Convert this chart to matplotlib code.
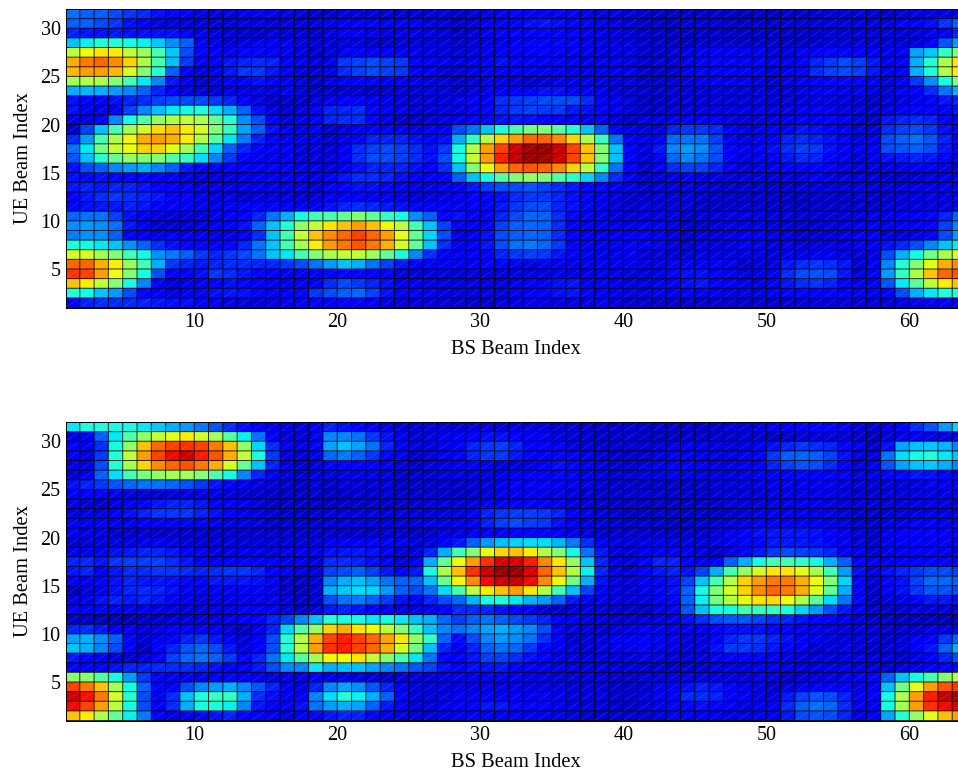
import numpy as np
import matplotlib
matplotlib.use('Agg')
import matplotlib.pyplot as plt
from matplotlib.collections import LineCollection

plt.rcParams['font.family'] = ['Liberation Serif']

# beam power, rows go from UE beam 31 (top) down to 1
top_left = [
    [22,20,20,18,16,15,12,11,10,8,7,7,8,8,8,7,6,5],
    [20,20,18,16,12,9,7,6,6,6,6,6,7,7,6,7,7,7],
    [14,13,12,13,12,12,12,12,10,8,7,6,5,5,6,6,6,5],
    [30,35,38,38,36,35,31,25,20,11,8,6,7,8,9,8,7,6],
    [57,63,66,65,57,53,42,31,18,11,9,8,10,10,10,8,7,5],
    [72,78,80,76,68,55,43,30,16,10,10,13,14,15,14,10,9,7],
    [71,74,74,71,60,50,38,20,10,7,9,13,16,16,13,9,7,6],
    [54,55,55,50,42,34,24,13,8,5,7,10,11,12,11,8,6,5],
    [28,29,28,26,24,20,14,9,7,6,6,7,7,7,7,8,6,5],
    [12,11,10,12,14,15,17,18,18,18,16,14,11,7,5,5,5,6],
    [12,8,7,8,17,24,30,34,36,37,33,28,20,12,7,5,6,9],
    [7,6,9,24,36,44,52,56,58,55,47,38,25,18,10,6,8,10],
    [5,17,30,42,54,60,67,70,65,60,50,40,27,20,12,8,7,9],
    [15,26,42,55,64,72,74,72,65,56,45,34,23,14,10,8,8,8],
    [22,34,48,58,63,68,68,62,54,42,32,20,14,11,9,9,7,7],
    [19,30,38,46,52,50,50,44,40,33,24,16,10,8,8,8,6,6],
    [12,18,20,24,26,28,24,20,13,9,9,9,9,9,9,9,8,8],
    [12,11,12,11,11,10,10,8,6,6,6,7,7,8,8,8,8,7],
    [13,14,13,14,14,13,11,10,8,7,7,7,8,8,8,7,7,6],
    [10,13,15,16,15,14,13,11,11,8,7,7,5,6,6,6,6,6],
    [11,12,13,13,14,13,11,11,9,8,8,9,10,10,11,11,10,9],
    [21,22,22,17,12,8,6,6,6,7,8,10,11,14,22,28,36,42],
    [25,26,25,22,13,8,5,5,6,7,9,10,12,20,30,38,52,58],
    [23,25,25,20,10,8,7,8,8,8,7,7,8,15,30,42,58,70],
    [37,36,34,30,25,20,15,12,11,11,10,11,14,22,30,42,54,65],
    [60,60,54,50,42,36,25,23,20,16,14,16,18,22,30,34,42,50],
    [80,80,72,65,52,42,28,16,14,13,14,15,15,14,14,16,18,22],
    [85,84,74,63,50,36,18,9,10,12,16,15,13,11,9,8,8,9],
    [70,65,58,50,36,24,10,6,8,9,10,12,11,10,9,8,9,10],
    [38,36,30,26,18,11,9,7,8,10,12,13,12,11,9,9,11,16],
    [11,14,15,15,15,14,13,12,12,10,8,7,6,6,7,8,10,11],
]
top_mid = [
    [5,6,6,6,6,6,6,6,6,5,6,7,8,10,11,10,10,9,8,7,7,6],
    [8,10,10,10,10,11,9,7,6,5,7,9,11,11,12,13,12,11,10,8,7,6],
    [7,9,9,8,7,8,8,7,6,5,6,8,10,11,11,11,11,10,9,8,7,6],
    [6,6,6,5,5,6,6,6,6,5,6,7,8,9,9,10,10,9,8,7,7,6],
    [6,8,9,9,9,9,8,7,6,6,7,8,9,9,9,10,9,8,8,7,7,7],
    [8,16,17,18,17,16,11,9,8,7,8,10,12,11,11,10,10,9,8,8,8,7],
    [8,15,17,18,17,16,11,9,6,6,8,10,11,10,10,10,9,9,8,8,8,8],
    [7,9,10,10,9,9,8,7,6,5,6,7,8,7,5,6,8,8,8,7,6,6],
    [4,5,5,4,5,6,6,6,6,5,7,8,10,10,11,12,12,11,10,8,6,5],
    [8,10,10,9,8,7,6,6,7,8,10,11,15,16,17,18,18,18,15,10,8,6],
    [14,14,15,11,9,8,6,6,7,7,9,11,14,16,17,16,16,13,12,10,8,6],
    [14,15,15,10,7,5,5,6,7,8,9,11,12,13,12,11,10,9,8,8,6,4],
    [5,6,8,10,9,8,7,8,8,18,22,30,37,43,48,50,45,38,30,20,11,7],
    [5,7,10,14,14,14,12,10,12,28,40,56,68,74,80,80,76,68,55,40,22,9],
    [6,9,15,17,18,17,15,12,16,36,56,74,84,93,97,98,93,84,70,50,30,11],
    [7,9,15,18,18,17,15,12,18,36,58,74,88,94,98,97,93,84,70,50,30,10],
    [6,8,12,14,14,14,12,10,15,30,50,63,74,80,82,80,76,68,57,40,22,9],
    [10,13,15,15,14,12,10,10,11,20,30,36,44,50,52,50,44,39,32,24,15,8],
    [9,11,12,12,11,10,7,7,8,10,13,16,18,18,19,17,15,13,11,9,8,7],
    [8,9,10,9,8,7,6,6,7,8,10,10,12,15,16,16,14,12,10,8,6,5],
    [12,14,15,14,13,12,11,10,9,8,9,10,13,16,18,18,14,12,10,8,6,5],
    [43,46,50,46,40,36,25,20,11,12,9,10,14,18,21,20,15,11,9,8,7,6],
    [66,70,74,70,64,57,42,30,17,8,9,11,17,20,21,20,15,9,8,8,7,7],
    [76,80,84,80,74,62,46,32,18,7,8,12,18,20,21,20,15,10,9,8,8,8],
    [74,78,82,78,72,60,46,30,15,8,9,13,18,22,23,21,16,10,8,8,8,9],
    [55,58,57,53,46,36,24,15,9,8,9,11,14,16,17,16,13,10,9,8,8,8],
    [26,30,28,22,17,13,11,10,9,8,9,10,10,8,7,8,8,8,8,9,8,8],
    [10,11,11,10,9,6,6,6,6,6,6,6,6,7,7,7,8,8,8,8,7,6],
    [15,18,16,14,12,8,8,7,7,7,7,7,7,8,8,10,12,13,10,9,8,7],
    [18,20,21,17,12,10,9,8,7,7,7,7,7,8,9,10,12,13,10,9,8,7],
    [10,11,11,9,7,6,6,6,6,5,5,5,6,7,8,7,7,7,7,8,6,5],
]
top_right = [
    [5,5,5,5,5,5,5,4,4,4,5,5,5,6,6,6,6,5,6,7,7,8,9],
    [5,5,5,6,6,6,5,5,5,5,6,6,6,7,7,7,7,7,9,11,12,16,20],
    [5,5,5,5,5,5,5,5,5,5,5,5,5,6,6,6,6,6,6,7,8,9,14],
    [5,5,4,4,5,5,5,5,5,5,5,5,5,6,6,6,6,6,6,7,10,19,26],
    [5,5,6,7,8,9,9,8,8,6,7,8,9,11,11,11,9,8,8,27,31,40,50],
    [5,6,6,8,10,11,11,11,9,8,9,11,14,16,18,17,13,8,10,28,38,55,66],
    [5,5,6,8,11,11,11,11,8,7,9,11,15,17,18,17,13,9,10,28,37,55,65],
    [5,5,6,7,8,9,8,8,6,5,7,9,10,11,11,11,9,6,10,16,25,36,50],
    [5,5,6,6,6,6,6,6,6,6,6,7,8,8,8,8,7,6,8,11,15,22,28],
    [4,5,6,6,6,6,6,6,6,6,6,7,7,7,7,6,5,6,7,9,11,13,14],
    [5,5,6,6,7,7,7,7,7,7,7,8,8,8,7,7,6,7,9,10,10,11,12],
    [7,7,8,9,9,8,7,6,6,7,8,9,9,9,8,6,5,13,14,15,14,11,9],
    [6,7,14,16,16,15,9,7,7,9,11,13,12,10,8,6,6,15,17,18,16,12,9],
    [7,11,21,22,22,17,9,7,8,10,14,15,14,12,9,7,8,18,20,22,19,14,10],
    [7,13,24,26,25,19,10,8,9,12,15,17,16,12,9,8,9,18,19,20,18,13,10],
    [6,11,21,24,22,18,10,7,8,10,13,15,14,11,8,6,8,12,13,14,13,10,8],
    [5,9,15,17,17,14,8,6,6,8,10,11,10,9,7,6,7,7,7,8,8,7,6],
    [5,6,7,8,7,7,6,6,6,6,7,7,8,7,6,6,6,5,5,5,6,7,8],
    [5,6,6,6,6,5,5,5,5,5,5,6,6,6,6,6,6,6,6,7,7,8,9],
    [5,6,6,6,5,5,5,5,5,5,5,4,5,5,5,5,5,5,6,7,7,7,8],
    [6,6,6,6,5,5,5,5,5,5,5,4,5,5,5,5,5,6,6,6,6,7,8],
    [7,7,7,5,6,6,7,7,7,7,7,6,6,6,7,7,8,8,9,9,10,14,20],
    [8,8,7,5,5,6,7,7,7,6,6,5,5,6,7,8,8,8,9,9,10,17,24],
    [8,8,7,4,6,6,7,8,8,7,7,5,5,6,7,8,9,6,6,7,9,18,26],
    [8,8,7,5,7,7,7,8,7,6,7,6,6,7,7,8,9,12,14,18,24,30,34],
    [6,6,6,6,7,7,7,7,7,7,8,8,8,8,7,6,7,18,28,36,48,55,60],
    [7,7,9,9,9,9,8,5,6,7,13,15,16,15,13,6,9,24,38,50,62,72,76],
    [6,8,11,12,12,10,8,7,7,9,15,18,19,18,13,6,10,26,40,55,70,80,82],
    [7,9,11,12,13,11,9,8,7,9,13,15,16,14,11,8,10,19,34,45,57,65,70],
    [7,8,9,9,9,8,7,7,7,9,10,10,10,10,9,8,9,10,18,28,34,38,38],
    [5,5,5,5,5,5,5,5,5,5,6,6,6,6,6,6,6,6,7,7,8,10,11],
]
bot_left = [
    [34,37,37,36,36,34,31,28,26,23,19,15,12,9,8,7,7,9],
    [7,9,20,34,44,52,58,62,65,60,54,44,35,22,10,6,6,8],
    [10,8,15,36,52,70,80,84,86,84,78,70,52,32,15,8,7,10],
    [10,7,16,38,58,74,84,90,93,88,82,72,58,37,16,7,6,8],
    [7,7,18,38,54,68,76,80,82,78,72,60,46,30,14,7,5,6],
    [5,8,20,33,42,49,52,54,54,50,44,36,24,14,8,6,5,6],
    [12,14,16,19,21,22,22,21,19,16,13,10,8,7,6,5,5,6],
    [9,9,9,7,6,5,5,6,7,7,7,6,5,5,4,4,4,5],
    [7,5,5,7,9,11,13,14,14,13,11,10,8,6,5,5,5,5],
    [6,7,7,9,12,14,16,16,16,14,12,10,8,7,6,5,5,6],
    [9,9,9,8,8,9,10,10,10,9,8,7,7,6,5,5,5,5],
    [9,7,7,5,5,5,4,5,5,5,5,5,5,5,5,5,5,5],
    [5,6,6,7,7,8,8,7,6,6,6,6,6,6,6,6,6,6],
    [8,8,9,12,13,14,14,13,11,9,7,7,8,8,7,8,9,9],
    [14,15,13,16,17,17,17,15,13,11,10,10,11,11,10,8,8,7],
    [13,14,11,13,15,15,16,16,15,14,15,16,16,14,10,8,7,7],
    [9,8,9,12,14,13,13,12,11,11,13,13,13,12,9,5,4,6],
    [3,6,8,12,14,15,14,12,9,8,9,10,10,10,8,5,4,6],
    [7,8,12,14,13,14,13,11,8,7,8,8,8,8,8,6,5,6],
    [9,9,9,9,8,8,7,7,6,6,7,7,9,9,9,6,5,7],
    [4,4,3,3,3,4,5,6,6,6,7,8,9,11,14,17,24,30],
    [14,15,13,10,8,6,7,9,10,11,9,6,5,8,14,32,44,52],
    [27,28,25,20,11,6,8,10,14,16,13,9,6,10,18,38,56,72],
    [30,28,24,18,10,4,9,14,19,21,18,13,7,10,18,38,56,74],
    [13,11,9,6,5,6,10,17,21,22,20,16,11,14,22,34,44,54],
    [11,10,11,12,14,14,15,15,15,14,12,10,9,13,18,24,24,34],
    [50,50,44,36,26,16,11,8,8,8,9,9,10,8,7,7,7,10],
    [84,78,70,54,36,20,10,9,18,24,26,28,24,19,14,8,7,14],
    [93,89,78,60,38,18,8,15,30,37,41,40,28,15,12,8,10,24],
    [90,84,74,56,36,18,9,15,28,36,37,35,24,13,9,8,12,22],
    [70,65,55,46,35,23,10,6,8,11,12,14,11,10,8,6,9,11],
]
bot_mid = [
    [14,12,11,9,7,6,6,6,6,6,7,7,7,7,7,7,6,6,5,5,5,5],
    [24,24,22,16,12,9,6,7,8,9,11,12,12,11,9,8,7,6,6,5,5,5],
    [27,30,27,22,14,9,7,6,8,11,14,16,17,14,11,10,9,7,6,5,5,5],
    [21,23,20,16,11,8,5,6,8,11,14,16,16,13,11,11,11,9,8,6,5,5],
    [9,11,10,9,8,6,5,6,7,8,9,8,6,6,7,9,12,11,8,7,5,5],
    [6,7,7,7,6,5,5,5,6,7,6,6,8,9,9,10,11,9,7,6,5,5],
    [5,6,6,6,6,5,5,5,5,5,6,7,8,9,9,10,9,8,7,6,5,5],
    [4,4,5,5,6,5,5,5,5,4,5,6,8,8,8,7,7,6,5,5,5,5],
    [5,5,5,5,5,5,5,6,6,6,7,8,9,9,9,9,8,7,6,5,5,4],
    [6,6,6,6,6,6,6,6,6,7,10,14,16,17,17,16,14,10,8,6,5,4],
    [6,6,6,6,6,6,6,7,7,8,10,14,17,18,17,16,12,9,7,6,5,4],
    [5,4,4,4,5,5,4,4,6,7,8,9,10,11,11,11,9,8,6,5,5,5],
    [8,8,9,9,9,8,7,7,10,13,20,26,30,32,33,33,29,23,15,9,7,6],
    [12,13,13,12,10,6,7,14,28,42,50,62,68,70,65,56,50,36,22,13,7,6],
    [15,15,14,12,9,6,10,28,46,63,74,86,92,92,88,76,66,52,30,14,7,6],
    [17,18,20,17,13,10,13,36,55,70,86,94,98,98,92,80,70,56,35,14,7,6],
    [24,28,30,27,22,20,21,30,47,64,76,90,93,94,90,76,64,48,28,12,7,6],
    [28,31,33,32,26,20,18,22,33,43,57,65,70,74,66,56,42,30,17,9,7,6],
    [18,22,23,20,16,12,10,14,18,21,29,36,37,34,29,26,20,13,9,8,7,6],
    [13,14,13,11,8,7,7,8,11,15,15,14,12,10,8,5,4,6,7,6,5,5],
    [38,37,36,34,36,34,30,28,21,17,20,22,20,18,16,14,10,9,7,6,5,5],
    [68,72,66,63,57,50,40,30,24,22,24,27,28,26,24,18,10,7,6,5,6,7],
    [84,88,84,80,73,66,52,40,20,12,18,24,26,25,22,15,9,5,6,7,9,9],
    [86,88,84,80,72,60,48,30,14,8,14,20,22,21,16,11,8,6,6,7,8,8],
    [64,63,66,57,50,42,34,22,10,10,13,17,17,15,12,9,7,6,6,6,6,6],
    [28,30,30,27,24,22,19,17,12,10,12,12,13,11,9,8,7,6,6,6,6,6],
    [7,7,6,6,5,6,6,6,7,8,8,8,8,8,7,7,6,6,6,6,5,5],
    [24,27,25,19,14,9,7,6,7,7,7,7,7,7,7,7,7,6,6,6,5,5],
    [33,38,35,28,20,11,7,6,7,9,9,10,10,9,8,8,8,7,7,7,5,5],
    [26,28,27,20,13,9,6,6,8,9,11,13,13,11,10,9,8,7,6,6,5,4],
    [13,14,14,11,8,7,6,6,7,8,9,9,9,8,8,8,7,6,5,5,5,5],
]
bot_right = [
    [5,5,5,5,5,5,6,6,7,9,10,11,11,10,8,7,6,7,10,15,19,26,32],
    [4,4,4,5,5,5,5,6,5,4,5,6,6,6,6,5,4,6,7,8,7,6,9],
    [5,6,7,8,8,7,6,7,9,12,14,16,15,14,11,8,5,12,27,30,31,29,24],
    [5,7,9,8,8,7,7,8,10,16,20,21,20,17,12,6,7,22,33,36,38,34,30],
    [6,8,9,9,8,7,7,8,9,14,17,19,18,15,11,6,8,19,27,30,31,28,24],
    [6,7,8,7,6,6,6,7,8,9,10,11,10,9,8,6,8,10,11,13,12,10,8],
    [4,5,5,5,5,6,6,6,7,8,8,8,8,8,7,6,6,6,6,7,8,9,9],
    [5,5,5,5,5,5,6,6,6,7,7,7,7,7,6,5,5,6,6,6,7,7,7],
    [4,5,5,5,5,5,6,6,6,7,8,8,8,7,6,6,6,6,6,7,7,7,7],
    [4,5,5,5,5,4,5,6,7,8,8,8,7,7,6,5,5,6,6,6,7,7,8],
    [5,5,4,4,5,5,6,7,8,9,10,9,8,7,6,5,5,7,7,8,8,8,9],
    [5,5,5,5,5,6,8,10,12,13,13,13,12,10,8,6,5,8,9,9,10,10,10],
    [7,8,7,7,6,7,8,10,11,13,13,13,12,10,8,6,5,8,9,9,9,9,9],
    [8,9,9,9,7,5,7,9,13,16,18,17,16,14,11,8,6,8,8,9,9,8,8],
    [10,14,14,11,8,10,20,28,36,42,42,40,36,28,20,11,8,8,9,10,11,11,11],
    [10,13,14,12,17,28,42,52,60,66,66,62,54,42,26,12,7,12,14,16,18,18,17],
    [9,11,12,17,30,42,56,68,74,78,78,72,63,50,32,11,6,10,12,17,21,21,20],
    [8,10,12,20,36,50,60,68,76,80,78,72,62,46,28,11,5,9,12,16,19,19,18],
    [7,9,11,20,35,48,56,62,66,67,63,55,45,33,22,11,5,7,8,10,13,13,12],
    [4,7,10,19,30,37,36,42,41,40,37,32,26,18,13,8,5,5,5,6,6,6,6],
    [6,7,8,12,15,18,19,19,17,15,14,12,10,9,8,6,5,4,4,4,4,3,4],
    [9,8,8,8,8,10,12,12,12,11,10,8,7,7,6,6,6,5,5,5,7,7,7],
    [10,9,8,6,7,10,14,16,16,14,12,9,8,7,6,6,6,5,6,9,11,16,20],
    [9,8,8,6,7,12,16,16,15,13,11,8,5,6,7,6,5,6,6,9,13,20,28],
    [7,7,6,6,6,8,9,11,10,9,7,6,6,6,7,7,6,6,5,7,10,14,18],
    [5,5,5,5,5,6,7,7,8,8,7,6,6,7,7,6,6,5,6,7,9,10,11],
    [6,6,7,7,7,7,7,7,7,6,5,6,6,7,8,9,11,20,30,36,42,50,56],
    [5,8,9,12,14,13,10,8,7,5,7,8,9,9,10,7,9,30,48,62,74,82,85],
    [7,9,10,15,15,14,11,9,7,7,13,17,19,18,14,9,10,36,55,74,88,94,96],
    [6,8,10,11,12,11,9,7,8,9,15,20,22,21,15,8,9,36,54,74,86,90,92],
    [5,6,8,9,9,8,7,7,8,8,13,18,19,18,14,7,10,27,38,52,62,70,74],
]

bs_ticks = [10, 20, 30, 40, 50, 60]
ue_ticks = [5, 10, 15, 20, 25, 30]
bs_index = np.arange(1, 65)
ue_index = np.arange(1, 33)
W, H = 958, 772


def draw_panel(y_top, y_bot, rows):
    # axes runs past the right edge, the reference is cropped at beam 63.4
    ax = fig.add_axes([65.5 / W, 1 - y_bot / H, (966.5 - 65.5) / W, (y_bot - y_top) / H])
    power = np.array(rows)[::-1]
    ax.pcolormesh(bs_index, ue_index, power, cmap='jet', vmin=-2, vmax=100, antialiased=True)
    # cell edges, not snapped so they all come out the same
    X, Y = np.meshgrid(bs_index[:-1], ue_index[:-1])
    segs = [[(x, y), (x + 1, y + 1)] for x, y in zip(X.ravel(), Y.ravel())]
    seams = LineCollection(segs, colors='w', linewidths=0.35, alpha=0.2)
    seams.set_snap(False)
    ax.add_collection(seams)
    edges = [[(x, 1), (x, 32)] for x in bs_index] + [[(1, y), (64, y)] for y in ue_index]
    grid = LineCollection(edges, colors='k', linewidths=0.7, alpha=0.8)
    grid.set_snap(False)
    ax.add_collection(grid)
    ax.set_xlim(1, 64)
    ax.set_ylim(1, 32)
    ax.set_xticks(bs_ticks)
    ax.set_yticks(ue_ticks)
    ax.tick_params(length=0, labelsize=14.5, pad=4)
    ax.tick_params(axis='y', pad=3.5)
    ax.set_xlabel('BS Beam Index', fontsize=14.8, labelpad=6)
    ax.set_ylabel('UE Beam Index', fontsize=14.8, labelpad=5.5)
    for s in ax.spines.values():
        s.set_linewidth(0.7)
    return ax


fig = plt.figure(figsize=(W / 100, H / 100), dpi=100)
draw_panel(9, 307.5, [a + b + c for a, b, c in zip(top_left, top_mid, top_right)])
draw_panel(422, 720.5, [a + b + c for a, b, c in zip(bot_left, bot_mid, bot_right)])
fig.savefig('out.png', dpi=100)
